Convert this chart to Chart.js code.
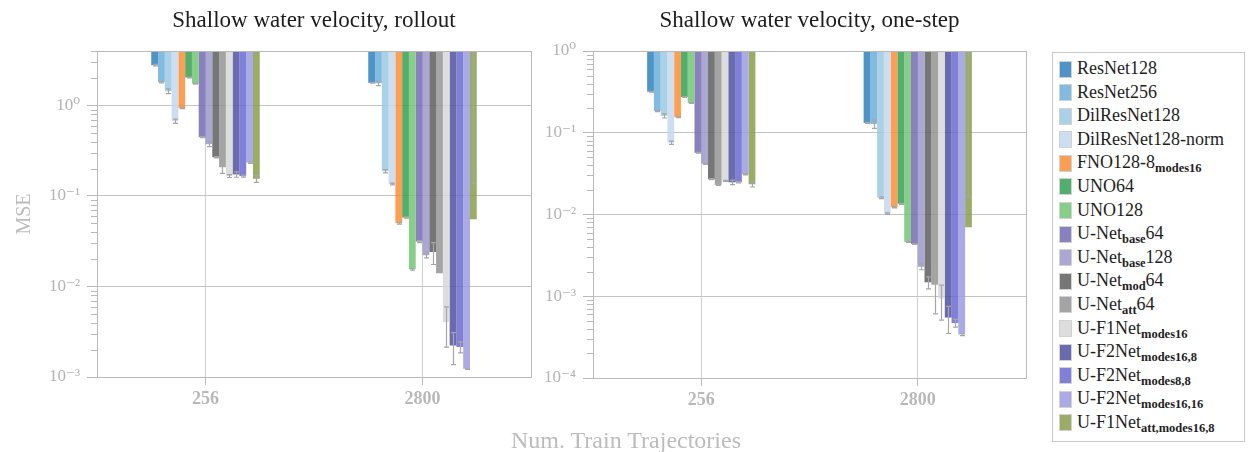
<!DOCTYPE html>
<html>
<head>
<meta charset="utf-8">
<script src="https://cdn.jsdelivr.net/npm/chart.js@4.4.1/dist/chart.umd.min.js"></script>
<style>
  html, body { margin: 0; padding: 0; background: #fff; }
  #fig { position: relative; width: 1249px; height: 452px; overflow: hidden; }
  #cvL { position: absolute; left: 0; top: 0; }
  #cvR { position: absolute; left: 540px; top: 0; }
  #xlab {
    position: absolute; left: 426px; width: 400px; top: 428px;
    text-align: center; font: 24px/24px 'Liberation Serif', serif; color: #bcbcbc;
  }
  #legend {
    position: absolute; left: 1052px; top: 52px; width: 191px; height: 384px;
    border: 1px solid #c9c9c9; box-sizing: content-box; padding-top: 4px;
    font-family: 'Liberation Serif', serif; color: #1e1e1e;
  }
  .row { position: relative; height: 23.6px; }
  .sw { position: absolute; left: 6px; top: 3.5px; width: 11px; height: 15px; border: 1px solid #d2d2d2; }
  .tx { position: absolute; left: 24px; top: 0; font-size: 18px; line-height: 23.6px; white-space: nowrap; }
  .tx sub { font-size: 12.5px; font-weight: bold; vertical-align: -3.5px; line-height: 0; }
</style>
</head>
<body>
<div id="fig">
  <canvas id="cvL" width="540" height="452"></canvas>
  <canvas id="cvR" width="500" height="452"></canvas>
  <div id="xlab">Num. Train Trajectories</div>
  <div id="legend"></div>
</div>
<script>
// Number of training trajectories (x categories)
const categories = ['256', '2800'];

// Model names; _{...} marks a subscript
const seriesNames = [
  'ResNet128', 'ResNet256', 'DilResNet128', 'DilResNet128-norm',
  'FNO128-8_{modes16}', 'UNO64', 'UNO128',
  'U-Net_{base}64', 'U-Net_{base}128', 'U-Net_{mod}64', 'U-Net_{att}64',
  'U-F1Net_{modes16}', 'U-F2Net_{modes16,8}', 'U-F2Net_{modes8,8}',
  'U-F2Net_{modes16,16}', 'U-F1Net_{att,modes16,8}'
];

const seriesColors = [
  'rgba(47,129,188,0.85)', 'rgba(109,175,218,0.85)', 'rgba(156,201,226,0.85)', 'rgba(195,216,237,0.85)',
  'rgba(252,141,54,0.85)', 'rgba(52,160,82,0.85)', 'rgba(116,196,119,0.85)',
  'rgba(116,106,179,0.85)', 'rgba(155,153,202,0.85)', 'rgba(94,94,94,0.85)', 'rgba(148,148,148,0.85)',
  'rgba(215,215,215,0.85)', 'rgba(80,80,160,0.85)', 'rgba(106,106,209,0.85)',
  'rgba(155,155,223,0.85)', 'rgba(136,157,75,0.85)'
];

// Rollout MSE (mean and std over seeds)
const rollout256     = [2.79, 1.81, 1.44, 0.671, 0.93, 2.04, 1.74, 0.447, 0.374, 0.268, 0.208, 0.166, 0.173, 0.166, 0.234, 0.155];
const rolloutStd256  = [0.05, 0.03, 0.085, 0.035, 0.01, 0.02, 0.02, 0.005, 0.022, 0.004, 0.03, 0.006, 0.012, 0.004, 0.005, 0.0135];
const rollout2800    = [1.78, 1.76, 0.188, 0.136, 0.050, 0.058, 0.0155, 0.0314, 0.0222, 0.024, 0.0140, 0.00404, 0.00223, 0.00215, 0.00123, 0.0555];
const rolloutStd2800 = [0.02, 0.1, 0.008, 0.003, 0.001, 0.001, 0.0003, 0.0008, 0.0015, 0.0065, 0.0151, 0.0019, 0.00086, 0.0003, 0.00002, 0.0815];

// One-step MSE (mean and std over seeds)
const oneStep256     = [0.318, 0.184, 0.161, 0.0754, 0.155, 0.273, 0.231, 0.0569, 0.0417, 0.0270, 0.0231, 0.0258, 0.0248, 0.0248, 0.0311, 0.0234];
const oneStepStd256  = [0.004, 0.003, 0.0095, 0.0035, 0.002, 0.003, 0.003, 0.0007, 0.0008, 0.0004, 0.0004, 0.0004, 0.0016, 0.0005, 0.0005, 0.0017];
const oneStep2800    = [0.132, 0.128, 0.0160, 0.01025, 0.01226, 0.0135, 0.00461, 0.00436, 0.0023, 0.00148, 0.00138, 0.00094, 0.00055, 0.00047, 0.00034, 0.0070];
const oneStepStd2800 = [0.002, 0.015, 0.0004, 0.0002, 0.0002, 0.0002, 0.00005, 0.00005, 0.00019, 0.00025, 0.00077, 0.00043, 0.0002, 0.00005, 0.00001, 0.0094];

// Log-axis ranges and decade tick labels
const rolloutRange = [1e-3, 4];
const rolloutTicks = [1e-3, 1e-2, 1e-1, 1];
const rolloutTickLabels = ['10⁻³', '10⁻²', '10⁻¹', '10⁰'];
const oneStepRange = [1e-4, 1];
const oneStepTicks = [1e-4, 1e-3, 1e-2, 1e-1, 1];
const oneStepTickLabels = ['10⁻⁴', '10⁻³', '10⁻²', '10⁻¹', '10⁰'];

const plainName = n => n.replace(/_\{([^}]*)\}/g, ' $1');
const htmlName = n => n.replace(/_\{([^}]*)\}/g, '<sub>$1</sub>');

const GRID = '#c4c4c4';
const FRAME = '#b9b9b9';
const TICKTEXT = '#b4b4b4';

// Error bars: mean ± std; a non-positive lower end runs off the top of the log axis
const errorBars = {
  id: 'errorBars',
  afterDatasetsDraw(chart) {
    const { ctx, chartArea: a, scales: { y } } = chart;
    ctx.save();
    ctx.beginPath();
    ctx.rect(a.left, a.top, a.right - a.left, a.bottom - a.top);
    ctx.clip();
    ctx.strokeStyle = '#a6a6a6';
    ctx.lineWidth = 1.2;
    chart.data.datasets.forEach((ds, di) => {
      chart.getDatasetMeta(di).data.forEach((bar, k) => {
        const v = ds.data[k], s = ds.std[k];
        const x = Math.round(bar.x) + 0.5;
        const yHi = y.getPixelForValue(v + s);
        const lowOk = v - s > 0;
        const yLo = lowOk ? y.getPixelForValue(v - s) : a.top - 20;
        ctx.beginPath();
        ctx.moveTo(x, yHi); ctx.lineTo(x, yLo);
        ctx.moveTo(x - 2.5, yHi); ctx.lineTo(x + 2.5, yHi);
        if (lowOk) { ctx.moveTo(x - 2.5, yLo); ctx.lineTo(x + 2.5, yLo); }
        ctx.stroke();
      });
    });
    ctx.restore();
  }
};

// Plot frame, minor log ticks and panel title
const frame = {
  id: 'frame',
  afterDraw(chart, args, opts) {
    const { ctx, chartArea: a, scales: { y } } = chart;
    ctx.save();
    ctx.strokeStyle = FRAME;
    ctx.lineWidth = 1;
    ctx.beginPath();
    for (let d = Math.log10(y.min); d < Math.log10(y.max); d++) {
      for (let m = 2; m <= 9; m++) {
        const v = m * Math.pow(10, d);
        if (v > y.max * 1.0001) break;
        const py = Math.round(y.getPixelForValue(v)) + 0.5;
        ctx.moveTo(a.left - 6, py); ctx.lineTo(a.left, py);
      }
    }
    ctx.stroke();
    ctx.strokeRect(Math.round(a.left) + 0.5, Math.round(a.top) + 0.5,
                   Math.round(a.right - a.left), Math.round(a.bottom - a.top));
    ctx.fillStyle = '#1c1c1c';
    ctx.font = '23px "Liberation Serif", serif';
    ctx.textAlign = 'center';
    ctx.textBaseline = 'alphabetic';
    ctx.fillText(opts.text, (a.left + a.right) / 2, 27);
    ctx.restore();
  }
};

function makeChart(canvas, cfg) {
  const datasets = seriesNames.map((name, i) => ({
    label: plainName(name),
    data: [cfg.v256[i], cfg.v2800[i]],
    std: [cfg.s256[i], cfg.s2800[i]],
    backgroundColor: seriesColors[i],
    base: cfg.range[1],
    borderWidth: 0,
    categoryPercentage: 0.5,
    barPercentage: 1.0
  }));
  return new Chart(canvas, {
    type: 'bar',
    data: { labels: categories, datasets },
    plugins: [errorBars, frame],
    options: {
      responsive: false,
      animation: false,
      layout: { padding: { left: 0, right: cfg.padRight, top: 51, bottom: 0 } },
      plugins: {
        legend: { display: false },
        tooltip: { enabled: false },
        frame: { text: cfg.title }
      },
      scales: {
        x: {
          offset: true,
          grid: { offset: false, color: '#cfcfcf', tickLength: 8, tickColor: FRAME },
          border: { display: false },
          ticks: {
            padding: 4, color: '#b8b8b8',
            font: { family: "'Liberation Serif', serif", size: 18, weight: 'bold' }
          },
          afterFit: s => { s.height = cfg.xHeight; }
        },
        y: {
          type: 'logarithmic',
          min: cfg.range[0],
          max: cfg.range[1],
          afterBuildTicks: s => { s.ticks = cfg.ticks.map(v => ({ value: v })); },
          grid: { color: GRID, tickLength: 10, tickColor: FRAME },
          border: { display: false },
          ticks: {
            padding: 7, color: TICKTEXT,
            font: { family: "'Liberation Serif', 'DejaVu Serif', serif", size: 17 },
            callback: (v, i) => cfg.tickLabels[i]
          },
          title: {
            display: !!cfg.yTitle, text: cfg.yTitle || '', color: '#bcbcbc',
            font: { family: "'Liberation Serif', serif", size: 20 },
            padding: { top: 13, bottom: 0 }
          },
          afterFit: s => { s.width = cfg.yWidth; }
        }
      }
    }
  });
}

const left = makeChart(document.getElementById('cvL'), {
  title: 'Shallow water velocity, rollout',
  v256: rollout256, v2800: rollout2800, s256: rolloutStd256, s2800: rolloutStd2800,
  range: rolloutRange, ticks: rolloutTicks, tickLabels: rolloutTickLabels,
  yTitle: 'MSE', yWidth: 97, xHeight: 75, padRight: 9
});

const right = makeChart(document.getElementById('cvR'), {
  title: 'Shallow water velocity, one-step',
  v256: oneStep256, v2800: oneStep2800, s256: oneStepStd256, s2800: oneStepStd2800,
  range: oneStepRange, ticks: oneStepTicks, tickLabels: oneStepTickLabels,
  yTitle: '', yWidth: 53, xHeight: 74, padRight: 14
});

// Shared legend built from the chart's datasets
const legendEl = document.getElementById('legend');
left.data.datasets.forEach((ds, i) => {
  const row = document.createElement('div');
  row.className = 'row';
  row.innerHTML = '<span class="sw" style="background:' + ds.backgroundColor + '"></span>' +
                  '<span class="tx">' + htmlName(seriesNames[i]) + '</span>';
  legendEl.appendChild(row);
});
</script>
</body>
</html>
